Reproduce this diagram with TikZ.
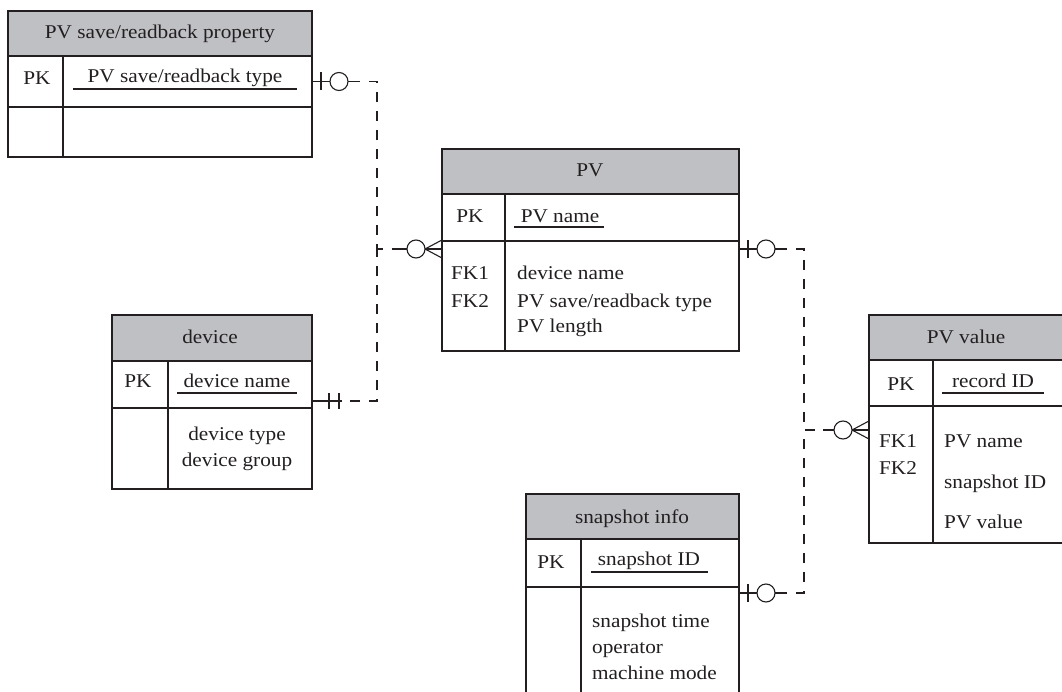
\documentclass[tikz,border=0pt]{standalone}
\usepackage{fontspec}
\setmainfont[FakeStretch=1.09]{Liberation Serif}
\usetikzlibrary{calc}

\definecolor{ink}{RGB}{35,31,32}
\definecolor{hdr}{RGB}{191,192,196}

\tikzset{
  cell/.style={draw=ink, line width=1.4pt, inner sep=0pt, outer sep=0pt, anchor=north west},
  head/.style={cell, fill=hdr},
  txt/.style={inner sep=0pt, anchor=base, text=ink},
  txtl/.style={inner sep=0pt, anchor=base west, text=ink},
  uline/.style={draw=ink, line width=1.2pt},
  rel/.style={draw=ink, line width=1.1pt, dash pattern=on 10pt off 9pt},
  endmark/.style={draw=ink, line width=1.1pt, solid},
}

% zero-or-one end leaving a box edge towards the right
\newcommand\erZeroOneRight[1]{%
  \draw[endmark] (#1) -- ++(46,0);
  \draw[endmark] ($(#1)+(9,-9)$) -- ($(#1)+(9,9)$);
  \draw[endmark, fill=white] ($(#1)+(27,0)$) circle[radius=9pt];
}
% zero-or-many end arriving at a box edge from the left
\newcommand\erZeroManyLeft[1]{%
  \draw[endmark] (#1) -- ++(-46,0);
  \draw[endmark] ($(#1)+(-17,0)$) -- ($(#1)+(0,-9)$);
  \draw[endmark] ($(#1)+(-17,0)$) -- ($(#1)+(0,9)$);
  \draw[endmark, fill=white] ($(#1)+(-26,0)$) circle[radius=9pt];
}
% exactly-one end leaving a box edge towards the right
\newcommand\erExactlyOneRight[1]{%
  \draw[endmark] (#1) -- ++(30,0);
  \draw[endmark] ($(#1)+(17,-8)$) -- ($(#1)+(17,8)$);
  \draw[endmark] ($(#1)+(27,-8)$) -- ($(#1)+(27,8)$);
}

\begin{document}
\begin{tikzpicture}[x=1pt, y=-1pt, font=\fontsize{19.5}{23}\selectfont]
\useasboundingbox (0,0) rectangle (1062,692);
\clip (0,0) rectangle (1062,692);
\fill[white] (0,0) rectangle (1062,692);

% ---- PV save/readback property ----
\node[head, minimum width=304pt, minimum height=45pt] (aH)   at (8,11) {};
\node[cell, minimum width=55pt,  minimum height=51pt] (aPK)  at (8,56) {};
\node[cell, minimum width=249pt, minimum height=51pt] (aPKF) at (63,56) {};
\node[cell, minimum width=55pt,  minimum height=50pt] (aBK)  at (8,107) {};
\node[cell, minimum width=249pt, minimum height=50pt] (aBF)  at (63,107) {};
\node[txt] (aT)  at (160,39) {PV save/readback property};
\node[txt] (aK)  at (37,85)  {PK};
\node[txt] (aF)  at (185,83) {PV save/readback type};
\draw[uline] (73,89) -- (297,89);

% ---- PV ----
\node[head, minimum width=297pt, minimum height=45pt]  (bH)   at (442,149) {};
\node[cell, minimum width=63pt,  minimum height=47pt]  (bPK)  at (442,194) {};
\node[cell, minimum width=234pt, minimum height=47pt]  (bPKF) at (505,194) {};
\node[cell, minimum width=63pt,  minimum height=110pt] (bBK)  at (442,241) {};
\node[cell, minimum width=234pt, minimum height=110pt] (bBF)  at (505,241) {};
\node[txt] (bT)  at (590,177) {PV};
\node[txt] (bK)  at (470,223) {PK};
\node[txt] (bF)  at (560,223) {PV name};
\draw[uline] (514,227) -- (604,227);
\node[txt]  (bK1) at (470,280) {FK1};
\node[txt]  (bK2) at (470,308) {FK2};
\node[txtl] (bA1) at (517,280) {device name};
\node[txtl] (bA2) at (517,308) {PV save/readback type};
\node[txtl] (bA3) at (517,333) {PV length};

% ---- device ----
\node[head, minimum width=200pt, minimum height=46pt] (cH)   at (112,315) {};
\node[cell, minimum width=56pt,  minimum height=47pt] (cPK)  at (112,361) {};
\node[cell, minimum width=144pt, minimum height=47pt] (cPKF) at (168,361) {};
\node[cell, minimum width=56pt,  minimum height=81pt] (cBK)  at (112,408) {};
\node[cell, minimum width=144pt, minimum height=81pt] (cBF)  at (168,408) {};
\node[txt] (cT)  at (210,343) {device};
\node[txt] (cK)  at (138,387) {PK};
\node[txt] (cF)  at (237,387) {device name};
\draw[uline] (177,393) -- (297,393);
\node[txt] (cA1) at (237,440) {device type};
\node[txt] (cA2) at (237,466) {device group};

% ---- snapshot info ----
\node[head, minimum width=213pt, minimum height=45pt]  (dH)   at (526,494) {};
\node[cell, minimum width=55pt,  minimum height=48pt]  (dPK)  at (526,539) {};
\node[cell, minimum width=158pt, minimum height=48pt]  (dPKF) at (581,539) {};
\node[cell, minimum width=55pt,  minimum height=130pt] (dBK)  at (526,587) {};
\node[cell, minimum width=158pt, minimum height=130pt] (dBF)  at (581,587) {};
\node[txt] (dT)  at (632,523) {snapshot info};
\node[txt] (dK)  at (551,568) {PK};
\node[txt] (dF)  at (649,565) {snapshot ID};
\draw[uline] (591,572) -- (708,572);
\node[txtl] (dA1) at (592,627) {snapshot time};
\node[txtl] (dA2) at (592,653) {operator};
\node[txtl] (dA3) at (592,679) {machine mode};

% ---- PV value ----
\node[head, minimum width=195pt, minimum height=45pt]  (eH)   at (869,315) {};
\node[cell, minimum width=64pt,  minimum height=46pt]  (ePK)  at (869,360) {};
\node[cell, minimum width=131pt, minimum height=46pt]  (ePKF) at (933,360) {};
\node[cell, minimum width=64pt,  minimum height=137pt] (eBK)  at (869,406) {};
\node[cell, minimum width=131pt, minimum height=137pt] (eBF)  at (933,406) {};
\node[txt] (eT)  at (966,343) {PV value};
\node[txt] (eK)  at (901,390) {PK};
\node[txt] (eF)  at (993,387) {record ID};
\draw[uline] (942,393) -- (1044,393);
\node[txt]  (eK1) at (898,447) {FK1};
\node[txt]  (eK2) at (898,474) {FK2};
\node[txtl] (eA1) at (944,447) {PV name};
\node[txtl] (eA2) at (944,488) {snapshot ID};
\node[txtl] (eA3) at (944,528) {PV value};

% ---- relationship end points and junctions ----
\coordinate (aOut) at (aPKF.east);
\coordinate (cOut) at ([yshift=7pt]cPKF.south east);
\coordinate (bIn)  at ([yshift=-8pt]bBK.north west);
\coordinate (bOut) at ([yshift=-8pt]bBF.north east);
\coordinate (dOut) at ([yshift=-6pt]dBF.north east);
\coordinate (eIn)  at ([yshift=-24pt]eBK.north west);
\coordinate (jL) at (377,249);
\coordinate (jR) at (804,430);

% ---- relationships ----
\draw[rel] (aOut) -| (jL) -- (bIn);
\draw[rel] (cOut) -| (jL);
\draw[rel] (bOut) -| (jR) -- (eIn);
\draw[rel] (dOut) -| (jR);

\erZeroOneRight{aOut}
\erExactlyOneRight{cOut}
\erZeroManyLeft{bIn}
\erZeroOneRight{bOut}
\erZeroOneRight{dOut}
\erZeroManyLeft{eIn}
\end{tikzpicture}
\end{document}
